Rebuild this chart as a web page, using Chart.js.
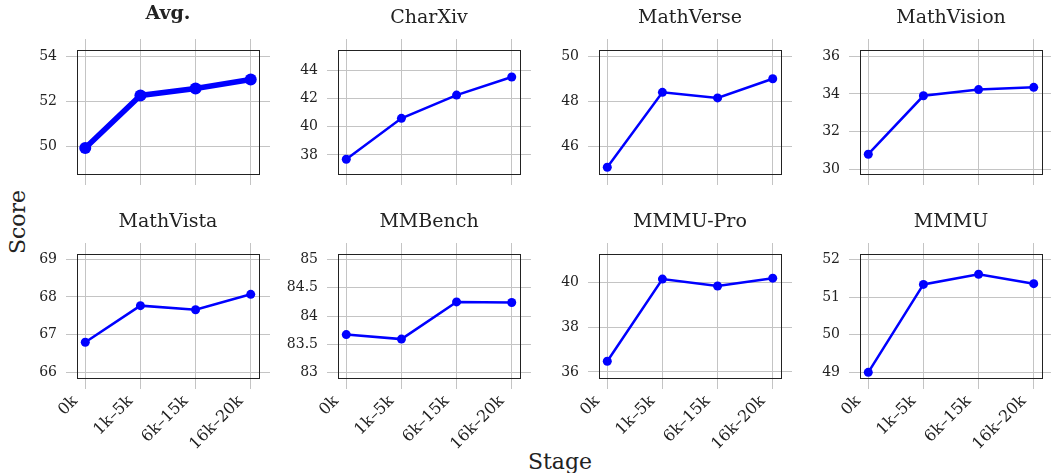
<!DOCTYPE html>
<html>
<head>
<meta charset="utf-8">
<script src="https://cdn.jsdelivr.net/npm/chart.js@4.4.0/dist/chart.umd.min.js"></script>
<style>
  html, body { margin: 0; padding: 0; background: #fff; }
  body { width: 1051px; height: 473px; position: relative; overflow: hidden; }
  .panel { position: absolute; }
  .lbl { position: absolute; font-family: "DejaVu Serif", serif; color: #222; font-size: 22px; white-space: nowrap; }
</style>
</head>
<body>
<div class="lbl" id="ylab" style="left:17px; top:222px; transform: translate(-50%,-50%) rotate(-90deg);">Score</div>
<div class="lbl" id="xlab" style="left:560px; top:461px; transform: translate(-50%,-50%);">Stage</div>
<script>
// ---- data ----
const stages = ['0k', '1k–5k', '6k–15k', '16k–20k'];
const titles = ['Avg.', 'CharXiv', 'MathVerse', 'MathVision', 'MathVista', 'MMBench', 'MMMU-Pro', 'MMMU'];

const avg        = [49.92, 52.25, 52.56, 52.96];
const charxiv    = [37.70, 40.60, 42.25, 43.53];
const mathverse  = [45.07, 48.40, 48.15, 49.00];
const mathvision = [30.80, 33.90, 34.23, 34.35];
const mathvista  = [66.80, 67.77, 67.66, 68.07];
const mmbench    = [83.67, 83.59, 84.25, 84.24];
const mmmupro    = [36.48, 40.15, 39.84, 40.19];
const mmmu       = [49.00, 51.34, 51.61, 51.36];

const avgTicks        = [50, 52, 54];
const charxivTicks    = [38, 40, 42, 44];
const mathverseTicks  = [46, 48, 50];
const mathvisionTicks = [30, 32, 34, 36];
const mathvistaTicks  = [66, 67, 68, 69];
const mmbenchTicks    = [83, 83.5, 84, 84.5, 85];
const mmmuproTicks    = [36, 38, 40];
const mmmuTicks       = [49, 50, 51, 52];

const avgRange        = [48.76, 54.27];
const charxivRange    = [36.65, 45.45];
const mathverseRange  = [44.77, 50.28];
const mathvisionRange = [29.75, 36.33];
const mathvistaRange  = [65.85, 69.14];
const mmbenchRange    = [82.90, 85.10];
const mmmuproRange    = [35.73, 41.27];
const mmmuRange       = [48.85, 52.15];

const seriesList = [avg, charxiv, mathverse, mathvision, mathvista, mmbench, mmmupro, mmmu];
const tickList = [avgTicks, charxivTicks, mathverseTicks, mathvisionTicks, mathvistaTicks, mmbenchTicks, mmmuproTicks, mmmuTicks];
const rangeList = [avgRange, charxivRange, mathverseRange, mathvisionRange, mathvistaRange, mmbenchRange, mmmuproRange, mmmuRange];

// ---- layout ----
const boxL = [77, 338, 599, 860];
const boxW = 182;
const boxT = [50, 254];
const boxH = 124;
const sideW = 70, topH = 50;
const bottomH = [20, 85];

const FONT = '"DejaVu Serif", serif';
const GRID = '#c4c4c4';
const INK = '#222';
const TL = 11;

function makePanel(k) {
  const row = Math.floor(k / 4), col = k % 4;
  const div = document.createElement('div');
  div.className = 'panel';
  const w = boxW + 2 * sideW, h = topH + boxH + bottomH[row];
  div.style.left = (boxL[col] - sideW) + 'px';
  div.style.top = (boxT[row] - topH) + 'px';
  div.style.width = w + 'px';
  div.style.height = h + 'px';
  const cv = document.createElement('canvas');
  cv.width = w; cv.height = h;
  cv.style.width = w + 'px'; cv.style.height = h + 'px';
  div.appendChild(cv);
  document.body.appendChild(div);

  const isAvg = k === 0;
  const yTicks = tickList[k];
  const xTickSet = (axis) => { axis.ticks = stages.map((_, i) => ({ value: i })); };
  const yTickSet = (axis) => { axis.ticks = yTicks.map(v => ({ value: v })); };
  const showX = row === 1;

  new Chart(cv, {
    type: 'line',
    data: {
      datasets: [{
        data: seriesList[k].map((v, i) => ({ x: i, y: v })),
        borderColor: '#0000ff',
        backgroundColor: '#0000ff',
        borderWidth: isAvg ? 5.5 : 2.5,
        pointRadius: isAvg ? 6 : 4.5,
        pointBorderWidth: 0,
        pointBackgroundColor: '#0000ff',
        tension: 0,
        clip: false
      }]
    },
    options: {
      responsive: false,
      animation: false,
      devicePixelRatio: 1,
      layout: { padding: 0 },
      plugins: {
        legend: { display: false },
        tooltip: { enabled: false },
        title: {
          display: true,
          text: titles[k],
          color: INK,
          font: { family: FONT, size: 19, weight: isAvg ? 'bold' : 'normal', lineHeight: 1 },
          padding: { top: isAvg ? 5 : 9, bottom: isAvg ? 15 : 11 }
        }
      },
      scales: {
        x: {
          type: 'linear', position: 'bottom',
          min: -0.15, max: 3.15,
          afterBuildTicks: xTickSet,
          afterFit: (s) => { s.height = bottomH[row]; },
          grid: { color: GRID, lineWidth: 1, tickLength: TL, drawTicks: true },
          border: { display: true, color: INK, width: 1 },
          ticks: {
            display: showX, autoSkip: false, minRotation: 45, maxRotation: 45,
            padding: 3, labelOffset: -10, color: INK, font: { family: FONT, size: 16 },
            callback: (v) => stages[v]
          }
        },
        x2: {
          type: 'linear', position: 'top',
          min: -0.15, max: 3.15,
          afterBuildTicks: xTickSet,
          afterFit: (s) => { s.height = TL; },
          grid: { color: GRID, lineWidth: 1, tickLength: TL, drawOnChartArea: false },
          border: { display: true, color: INK, width: 1 },
          ticks: { display: false }
        },
        y: {
          type: 'linear', position: 'left',
          min: rangeList[k][0], max: rangeList[k][1],
          afterBuildTicks: yTickSet,
          afterFit: (s) => { s.width = sideW; },
          grid: { color: GRID, lineWidth: 1, tickLength: TL },
          border: { display: true, color: INK, width: 1 },
          ticks: { padding: 9, color: INK, font: { family: FONT, size: 14 }, callback: (v) => String(v) }
        },
        y2: {
          type: 'linear', position: 'right',
          min: rangeList[k][0], max: rangeList[k][1],
          afterBuildTicks: yTickSet,
          afterFit: (s) => { s.width = sideW; },
          grid: { color: GRID, lineWidth: 1, tickLength: TL, drawOnChartArea: false },
          border: { display: true, color: INK, width: 1 },
          ticks: { display: false }
        }
      }
    }
  });
}

for (let k = 0; k < 8; k++) makePanel(k);
</script>
</body>
</html>
